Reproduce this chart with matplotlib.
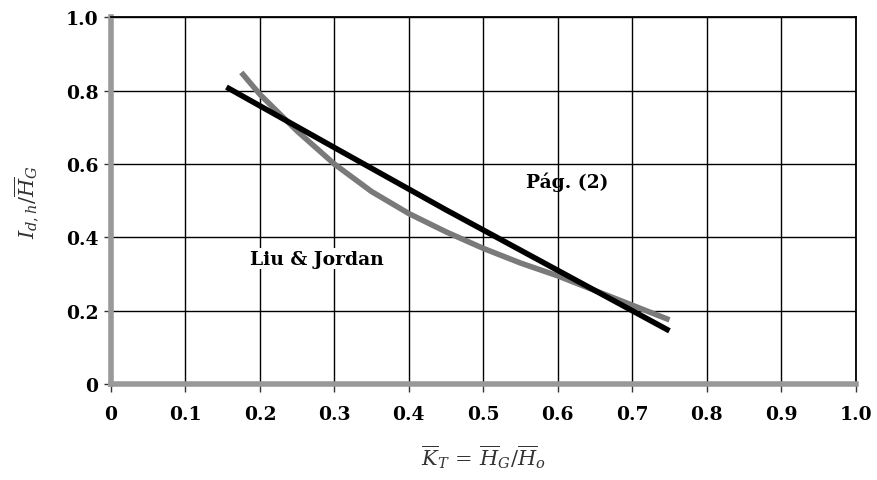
import numpy as np
import matplotlib
matplotlib.use("Agg")
import matplotlib.pyplot as plt

# Page correlation (straight line)
page_kt = [0.155, 0.30, 0.45, 0.60, 0.75]
page_id = [0.81, 0.645, 0.475, 0.31, 0.145]

# Liu & Jordan curve
lj_kt = [0.175, 0.20, 0.25, 0.30, 0.35, 0.40, 0.45, 0.50, 0.55, 0.60, 0.65, 0.70, 0.75]
lj_id = [0.85, 0.79, 0.69, 0.60, 0.525, 0.465, 0.415, 0.37, 0.33, 0.295, 0.255, 0.215, 0.175]

xticks = [0, 0.1, 0.2, 0.3, 0.4, 0.5, 0.6, 0.7, 0.8, 0.9, 1.0]
xlabels = ['0', '0.1', '0.2', '0.3', '0.4', '0.5', '0.6', '0.7', '0.8', '0.9', '1.0']
yticks = [0, 0.2, 0.4, 0.6, 0.8, 1.0]
ylabels = ['0', '0.2', '0.4', '0.6', '0.8', '1.0']

plt.rcParams['font.family'] = 'DejaVu Serif'
plt.rcParams['mathtext.fontset'] = 'dejavuserif'

fig = plt.figure(figsize=(8.77, 4.81), dpi=100)
ax = fig.add_axes([0.1266, 0.1996, 0.849, 0.762])

ax.plot(lj_kt, lj_id, color='#7a7a7a', lw=4, solid_capstyle='butt', zorder=3)
ax.plot(page_kt, page_id, color='black', lw=4, solid_capstyle='butt', zorder=4)

ax.set_xlim(0, 1.0)
ax.set_ylim(0, 1.0)
ax.set_xticks(xticks)
ax.set_xticklabels(xlabels)
ax.set_yticks(yticks)
ax.set_yticklabels(ylabels)
ax.grid(True, color='black', lw=1.0)
ax.set_axisbelow(True)

for lab in ax.get_xticklabels() + ax.get_yticklabels():
    lab.set_fontweight('bold')
    lab.set_fontsize(13.5)
ax.tick_params(axis='x', direction='out', length=6, width=1, color='#333333', pad=9)
ax.tick_params(axis='y', direction='out', length=5, width=1, color='#333333', pad=4)

ax.spines['left'].set_color('#999999')
ax.spines['left'].set_linewidth(4)
ax.spines['bottom'].set_color('#999999')
ax.spines['bottom'].set_linewidth(4)
ax.spines['top'].set_linewidth(1.3)
ax.spines['right'].set_linewidth(1.3)

ax.text(0.612, 0.553, 'Pág. (2)', fontsize=13.5, fontweight='bold', ha='center', va='center')
ax.text(0.277, 0.342, 'Liu & Jordan', fontsize=13.5, fontweight='bold', ha='center', va='center',
        bbox=dict(facecolor='white', edgecolor='none', pad=1))

ax.set_xlabel(r'$\overline{K}_T\,=\,\overline{H}_G/\overline{H}_o$', fontsize=15, color='#333333', labelpad=14)
ax.set_ylabel(r'$I_{d,h}/\overline{H}_G$', fontsize=15, color='#333333', labelpad=18)

fig.savefig('out.png', dpi=100)
